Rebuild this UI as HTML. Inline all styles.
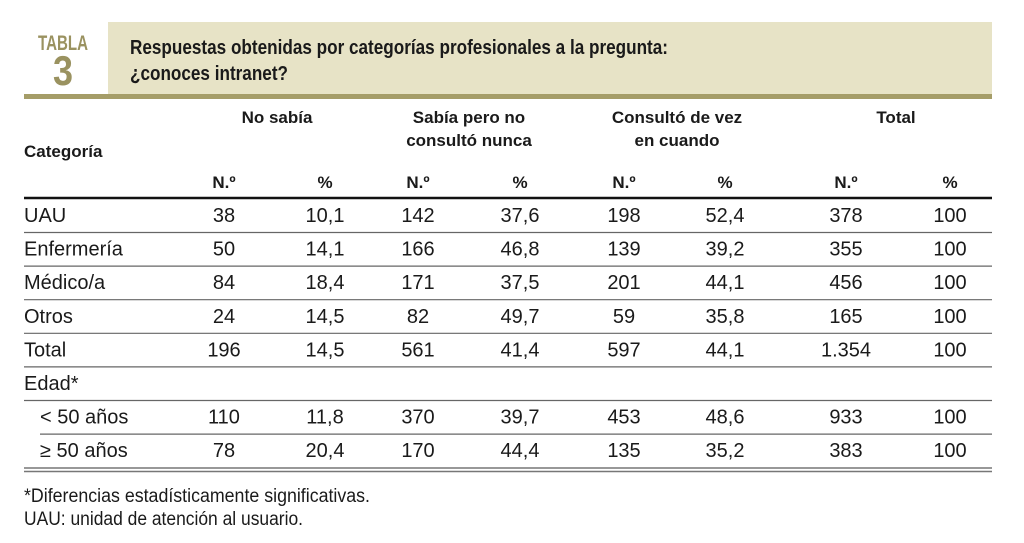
<!DOCTYPE html>
<html><head><meta charset="utf-8"><style>
html,body{margin:0;padding:0;background:#fff;width:1024px;height:543px;overflow:hidden}
svg{display:block}
text{font-family:"Liberation Sans Narrow","Liberation Sans",sans-serif;fill:#1a1a1a}
.b{font-weight:bold}
</style></head><body>
<svg width="1024" height="543">
<rect x="108" y="22" width="884" height="72" fill="#e7e3c6"/>
<rect x="24" y="94" width="968" height="5" fill="#a59d68"/>
<text x="38" y="50" class="b" font-size="21" textLength="50" lengthAdjust="spacingAndGlyphs" style="fill:#9a9260">TABLA</text>
<text x="53" y="85" class="b" font-size="42" textLength="20" lengthAdjust="spacingAndGlyphs" style="fill:#9a9260">3</text>
<text x="130" y="54" class="b" font-size="20" textLength="538" lengthAdjust="spacingAndGlyphs">Respuestas obtenidas por categorías profesionales a la pregunta:</text>
<text x="130" y="80" class="b" font-size="20" textLength="158" lengthAdjust="spacingAndGlyphs">¿conoces intranet?</text>
<g id="hdr" class="b" font-size="17"></g>
<g id="body" font-size="20"></g>
<text x="24" y="502" font-size="19" textLength="346" lengthAdjust="spacingAndGlyphs">*Diferencias estadísticamente significativas.</text>
<text x="24" y="525" font-size="19" textLength="279" lengthAdjust="spacingAndGlyphs">UAU: unidad de atención al usuario.</text>
</svg>
<script>
const categories=["UAU","Enfermería","Médico/a","Otros","Total","Edad*","< 50 años","≥ 50 años"];
const noSabiaN=["38","50","84","24","196","","110","78"];
const noSabiaP=["10,1","14,1","18,4","14,5","14,5","","11,8","20,4"];
const sabiaN=["142","166","171","82","561","","370","170"];
const sabiaP=["37,6","46,8","37,5","49,7","41,4","","39,7","44,4"];
const consN=["198","139","201","59","597","","453","135"];
const consP=["52,4","39,2","44,1","35,8","44,1","","48,6","35,2"];
const totN=["378","355","456","165","1.354","","933","383"];
const totP=["100","100","100","100","100","","100","100"];
const NS="http://www.w3.org/2000/svg";
const svg=document.querySelector('svg');
const hdr=document.getElementById('hdr'),body=document.getElementById('body');
const colX=[224,325,418,520,624,725,846,950];
function T(parent,x,y,s,anchor,name){const t=document.createElementNS(NS,'text');t.setAttribute('x',x);t.setAttribute('y',y);t.setAttribute('text-anchor',anchor);t.textContent=s;


parent.appendChild(t);return t;}
function L(x1,y,x2,w,c,name){const l=document.createElementNS(NS,'line');l.setAttribute('x1',x1);l.setAttribute('x2',x2);l.setAttribute('y1',y);l.setAttribute('y2',y);l.setAttribute('stroke',c);l.setAttribute('stroke-width',w);


svg.appendChild(l);}
T(hdr,24,157,"Categoría","start","category-header");
T(hdr,277,123,"No sabía","middle","group-header-no-sabia");
T(hdr,469,123,"Sabía pero no","middle","group-header-sabia");
T(hdr,469,146,"consultó nunca","middle","group-header-sabia-2");
T(hdr,677,123,"Consultó de vez","middle","group-header-consulto");
T(hdr,677,146,"en cuando","middle","group-header-consulto-2");
T(hdr,896,123,"Total","middle","group-header-total");
colX.forEach((x,i)=>T(hdr,x,188,i%2?"%":"N.º","middle",i%2?"pct-header":"n-header"));
L(24,198,992,2.5,"#111","header-rule");
const cols=[noSabiaN,noSabiaP,sabiaN,sabiaP,consN,consP,totN,totP];
categories.forEach((c,r)=>{
 const y=222+r*33.6;
 T(body,r>=6?40:24,y,c,"start","row-label");
 cols.forEach((arr,i)=>{if(arr[r])T(body,colX[i],y,arr[r],"middle","cell-value");});
 if(r<7){const ly=232.5+r*33.6;L(r==6?40:24,ly,992,1.2,"#666","row-separator");}
});
L(24,468,992,1.5,"#777","bottom-rule");
L(24,471.5,992,1.5,"#777","bottom-rule-2");
</script>
</body></html>
